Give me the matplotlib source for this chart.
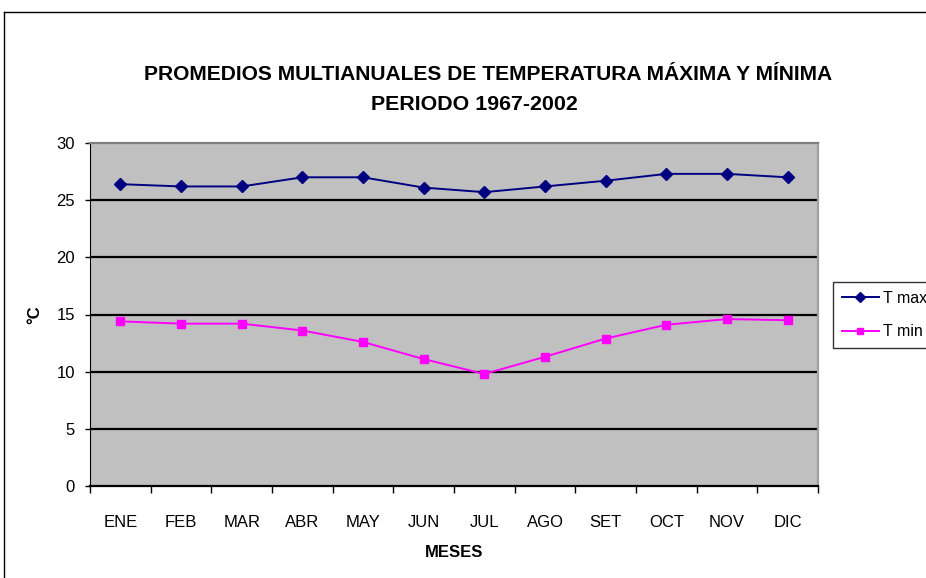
import matplotlib
matplotlib.use("Agg")
import matplotlib.pyplot as plt
from matplotlib.lines import Line2D

plt.rcParams['font.family'] = ['Liberation Sans', 'DejaVu Sans']

months = ["ENE", "FEB", "MAR", "ABR", "MAY", "JUN", "JUL", "AGO", "SET", "OCT", "NOV", "DIC"]
t_max = [26.4, 26.2, 26.2, 27.0, 27.0, 26.1, 25.7, 26.2, 26.7, 27.3, 27.3, 27.0]
t_min = [14.4, 14.2, 14.2, 13.6, 12.6, 11.1, 9.8, 11.3, 12.9, 14.1, 14.6, 14.5]
y_ticks = [0, 5, 10, 15, 20, 25, 30]

W, H = 926, 578
fig = plt.figure(figsize=(W / 100, H / 100), dpi=100)
fig.patch.set_facecolor("white")

# chart outer border (cropped on right and bottom)
fig.add_artist(Line2D([4 / W, 4 / W], [0, 1 - 12 / H], transform=fig.transFigure, color="black", lw=1))
fig.add_artist(Line2D([4 / W, 1], [1 - 12 / H, 1 - 12 / H], transform=fig.transFigure, color="black", lw=1))

ax = fig.add_axes([90 / W, 1 - 486 / H, (818 - 90) / W, (486 - 143) / H])
ax.set_facecolor("#C0C0C0")

x = list(range(len(months)))
ax.plot(x, t_max, color="#000080", marker="D", markersize=6, lw=1.4, label="T max", zorder=3)
ax.plot(x, t_min, color="#FF00FF", marker="s", markersize=6, lw=1.4, label="T min", zorder=3)

ax.set_xlim(-0.5, len(months) - 0.5)
ax.set_ylim(0, 30)
ax.set_yticks(y_ticks)
ax.set_yticklabels([str(v) for v in y_ticks], fontsize=12)
for v in y_ticks[1:-1]:
    ax.axhline(v, color="black", lw=1.6, zorder=1)

ax.set_xticks([i - 0.5 for i in range(len(months) + 1)])
ax.set_xticklabels([])
ax.set_xticks(x, minor=True)
ax.set_xticklabels(months, minor=True, fontsize=12)
ax.tick_params(axis="x", which="minor", length=0, pad=21)
ax.tick_params(axis="x", which="major", length=5, width=1, direction="out")
ax.tick_params(axis="y", length=3.8, width=1, direction="out", pad=7)

ax.spines["left"].set_color("black")
ax.spines["bottom"].set_color("black")
ax.spines["bottom"].set_linewidth(1.6)
ax.spines["top"].set_color("#808080")
ax.spines["top"].set_linewidth(1.6)
ax.spines["right"].set_color("#A0A0A0")
ax.spines["right"].set_linewidth(1.6)

ax.set_xlabel("MESES", fontsize=12, fontweight="bold", labelpad=11)
ax.set_ylabel("°C", fontsize=12, fontweight="bold", labelpad=10)

fig.text(488 / W, 1 - 75 / H, "PROMEDIOS MULTIANUALES DE TEMPERATURA MÁXIMA Y MÍNIMA",
         ha="center", va="center", fontsize=15.1, fontweight="bold")
fig.text(474 / W, 1 - 104 / H, "PERIODO 1967-2002",
         ha="center", va="center", fontsize=15.4, fontweight="bold")

leg = ax.legend(loc="upper left", bbox_to_anchor=(833 / W, 1 - 282 / H), bbox_transform=fig.transFigure,
                fontsize=11.5, frameon=True, fancybox=False, borderaxespad=0, handlelength=2.3,
                handletextpad=0.3, borderpad=0.55, labelspacing=1.15, markerscale=0.8)
leg.get_frame().set_edgecolor("black")
leg.get_frame().set_linewidth(1)

fig.savefig("out.png", dpi=100)
